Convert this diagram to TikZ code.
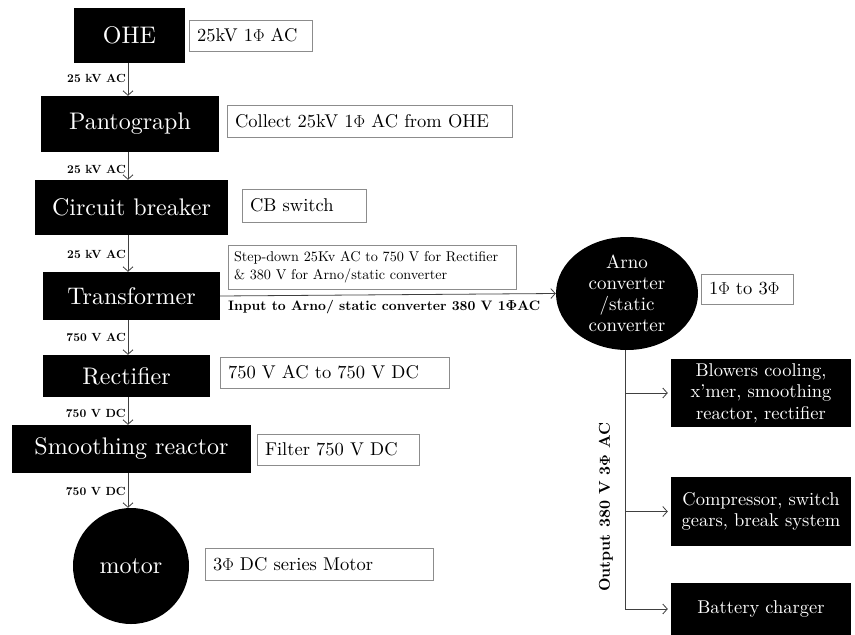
\documentclass[tikz,border=0pt]{standalone}
\usepackage{fontspec}
\setmainfont{lmroman10}[Extension=.otf, UprightFont=*-regular, BoldFont=*-bold, ItalicFont=*-italic, BoldItalicFont=*-bolditalic]
\usetikzlibrary{arrows.meta,shapes.geometric,calc}
\newcommand{\bPhi}{{\boldmath$\Phi$}}
\begin{document}
\begin{tikzpicture}[x=1pt,y=-1pt,
  blk/.style={fill=black, text=white, inner sep=0pt, align=center, font=\fontsize{24}{28}\selectfont},
  rblk/.style={fill=black, text=white, inner sep=0pt, align=center, minimum width=180pt, font=\fontsize{18.5}{21.5}\selectfont},
  lbl/.style={draw=black!45, line width=0.8pt, inner xsep=8pt, inner ysep=0pt, align=left, font=\fontsize{18.5}{21}\selectfont},
  vlab/.style={font=\bfseries\fontsize{11.8}{13}\selectfont, anchor=east, inner sep=1pt},
  conn/.style={draw=black!75, line width=0.8pt, -{Straight Barb[length=4.5pt,width=10pt]}},
  plain/.style={draw=black!75, line width=0.8pt},
]
\useasboundingbox (0,0) rectangle (855,635);

% left chain
\node[blk, minimum width=111pt, minimum height=55pt] (ohe) at (129.5,35.5) {OHE};
\node[blk, minimum width=178pt, minimum height=56pt] (panto) at (130,124) {Pantograph};
\node[blk, minimum width=193pt, minimum height=55pt] (cb) at (131.5,207.5) {Circuit breaker};
\node[blk, minimum width=177pt, minimum height=48pt] (trans) at (131.5,296) {Transformer};
\node[blk, minimum width=167pt, minimum height=42pt] (rect) at (126.5,376) {Rectifier};
\node[blk, minimum width=239pt, minimum height=48pt] (smooth) at (131.5,449) {Smoothing reactor};
\node[blk, circle, minimum size=116pt] (motor) at (131,566) {motor};

\coordinate (ax) at (128,0);

\draw[conn] (ohe.south -| ax) -- (panto.north -| ax);
\draw[conn] (panto.south -| ax) -- (cb.north -| ax);
\draw[conn] (cb.south -| ax) -- (trans.north -| ax);
\draw[conn] (trans.south -| ax) -- (rect.north -| ax);
\draw[conn] (rect.south -| ax) -- (smooth.north -| ax);
\draw[conn] (smooth.south -| ax) -- (motor.north -| ax);

\node[vlab] (l1) at (127,78) {25 kV AC};
\node[vlab] (l2) at (127,169) {25 kV AC};
\node[vlab] (l3) at (127,254) {25 kV AC};
\node[vlab] (l4) at (127,337) {750 V AC};
\node[vlab] (l5) at (127,413) {750 V DC};
\node[vlab] (l6) at (127,491) {750 V DC};

% description boxes
\node[lbl, text width=107pt, minimum height=31pt] (d1) at (250.5,35.5) {25kV 1$\Phi$ AC};
\node[lbl, text width=269pt, minimum height=32pt] (d2) at (369.5,121) {Collect 25kV 1$\Phi$ AC from OHE};
\node[lbl, text width=108pt, minimum height=33pt] (d3) at (304,205.5) {CB switch};
\node[lbl, inner xsep=6pt, text width=276pt, minimum height=44pt, font=\fontsize{14.2}{18}\selectfont] (d4) at (372,267) {Step-down 25Kv AC to 750 V for Rectifier\\ \& 380 V for Arno/static converter};
\node[lbl, text width=213pt, minimum height=31pt] (d5) at (334.5,372.5) {750 V AC to 750 V DC};
\node[lbl, text width=146pt, minimum height=31pt] (d6) at (338,449.5) {Filter 750 V DC};
\node[lbl, text width=212pt, minimum height=32pt] (d7) at (319,564) {3$\Phi$ DC series Motor};

% Arno converter
\node[blk, ellipse, minimum width=142pt, minimum height=113pt, font=\fontsize{19}{21}\selectfont] (arno) at (627,293.5) {Arno\\converter\\/static\\converter};
\node[lbl, text width=76pt, minimum height=30pt] (d8) at (747,289) {1$\Phi$ to 3$\Phi$};

\draw[conn] (trans.east) -- (arno.west);
\node[font=\bfseries\fontsize{13.7}{15}\selectfont, anchor=west, inner sep=0pt] (inlab) at (228,307) {Input to Arno/ static converter 380 V 1\bPhi AC};

% outputs
\node[rblk, minimum height=68pt] (blow) at (761,393) {Blowers cooling,\\x'mer, smoothing\\reactor, rectifier};
\node[rblk, minimum height=69pt] (comp) at (761,511.5) {Compressor, switch\\gears, break system};
\node[rblk, minimum height=52pt] (batt) at (761,609) {Battery charger};

\coordinate (tx) at (625,0);
\draw[plain] (arno.south -| tx) -- (tx |- batt.west);
\draw[conn, shorten >=3pt] (tx |- blow.west) -- (blow.west);
\draw[conn, shorten >=3pt] (tx |- comp.west) -- (comp.west);
\draw[conn, shorten >=3pt] (tx |- batt.west) -- (batt.west);

\node[rotate=90, font=\bfseries\fontsize{15.7}{18}\selectfont, inner sep=0pt] (outlab) at (606,507) {Output 380 V 3\bPhi\ AC};
\end{tikzpicture}
\end{document}
